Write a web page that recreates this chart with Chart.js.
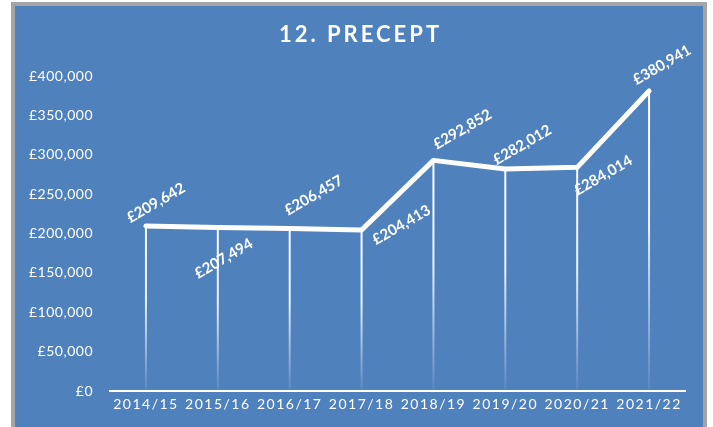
<!DOCTYPE html>
<html lang="en">
<head>
  <meta charset="UTF-8">
  <title>12. Precept</title>
  <script src="https://cdn.jsdelivr.net/npm/chart.js"></script>
  <style>
    body { margin: 0; background: #fff; }
    .frame { position: absolute; left: 11px; top: 2px; width: 688px; height: 421px; border: 4px solid #a5a5a5; border-bottom: none; background: #4f81bd; }
    canvas { display: block; }
  </style>
</head>
<body>
  <div class="frame"><canvas id="preceptChart" width="688" height="421"></canvas></div>

  <script>
    const chartTitle = '12. PRECEPT';
    const years = ['2014/15', '2015/16', '2016/17', '2017/18', '2018/19', '2019/20', '2020/21', '2021/22'];
    const precept = [209642, 207494, 206457, 204413, 292852, 282012, 284014, 380941];
    const yMax = 400000;
    const yStep = 50000;

    const money = v => '£' + Number(v).toLocaleString('en-GB');

    // drop lines, rotated value labels, spaced title
    const preceptPlugin = {
      id: 'precept',
      beforeDraw(chart) {
        chart.ctx.letterSpacing = '1.5px'; // x tick labels
      },
      beforeDatasetsDraw(chart) {
        const ctx = chart.ctx, area = chart.chartArea;
        ctx.letterSpacing = '0px';
        ctx.save();
        ctx.lineWidth = 2;
        chart.getDatasetMeta(0).data.forEach(pt => {
          const g = ctx.createLinearGradient(0, pt.y, 0, area.bottom);
          g.addColorStop(0, 'rgba(255,255,255,1)');
          g.addColorStop(0.45, 'rgba(255,255,255,0.9)');
          g.addColorStop(1, 'rgba(255,255,255,0.05)');
          ctx.strokeStyle = g;
          ctx.beginPath();
          ctx.moveTo(pt.x, pt.y);
          ctx.lineTo(pt.x, area.bottom);
          ctx.stroke();
        });
        ctx.restore();
      },
      afterDatasetsDraw(chart) {
        chart.ctx.letterSpacing = '0.5px'; // y tick labels (z: 1)
      },
      afterDraw(chart, args, opts) {
        const ctx = chart.ctx;
        ctx.save();
        ctx.letterSpacing = '0px';
        ctx.fillStyle = '#fff';
        ctx.font = 'bold 15px Lato';
        ctx.textAlign = 'center';
        ctx.textBaseline = 'middle';
        chart.getDatasetMeta(0).data.forEach((pt, i) => {
          const [dx, dy] = opts.offsets[i];
          ctx.save();
          ctx.translate(pt.x + dx, pt.y + dy);
          ctx.rotate(-Math.PI / 6);
          ctx.fillText(money(precept[i]), 0, 0);
          ctx.restore();
        });
        ctx.font = 'bold 22px Lato';
        ctx.letterSpacing = '3px';
        ctx.textBaseline = 'alphabetic';
        ctx.fillText(chartTitle, chart.width / 2 + 1.5, 36);
        ctx.restore();
        ctx.letterSpacing = '0px';
      }
    };

    new Chart(document.getElementById('preceptChart'), {
      type: 'line',
      data: {
        labels: years,
        datasets: [{
          data: precept,
          borderColor: '#fff',
          borderWidth: 5,
          pointRadius: 0,
          tension: 0,
          borderCapStyle: 'round',
          borderJoinStyle: 'round',
          fill: false
        }]
      },
      options: {
        responsive: false,
        animation: false,
        layout: { padding: { top: 70, right: 18, bottom: 6, left: 0 } },
        plugins: {
          legend: { display: false },
          tooltip: { enabled: false },
          precept: {
            offsets: [[10, -23], [6, 31], [24, -33], [40, -5], [29, -31], [17, -24], [26, 8], [13, -26]]
          }
        },
        scales: {
          x: {
            offset: true,
            grid: { display: false, drawTicks: false },
            border: { display: true, color: '#fff', width: 2 },
            ticks: { color: '#fff', font: { family: 'Lato', size: 14 }, padding: 5, maxRotation: 0, autoSkip: false },
            afterFit(s) { s.height = 30; }
          },
          y: {
            min: 0,
            max: yMax,
            grid: { display: false, drawTicks: false },
            border: { display: false },
            ticks: { stepSize: yStep, color: '#fff', font: { family: 'Lato', size: 14 }, padding: 17, z: 1, callback: money },
            afterFit(s) { s.width = 95; }
          }
        }
      },
      plugins: [preceptPlugin]
    });
  </script>
</body>
</html>
